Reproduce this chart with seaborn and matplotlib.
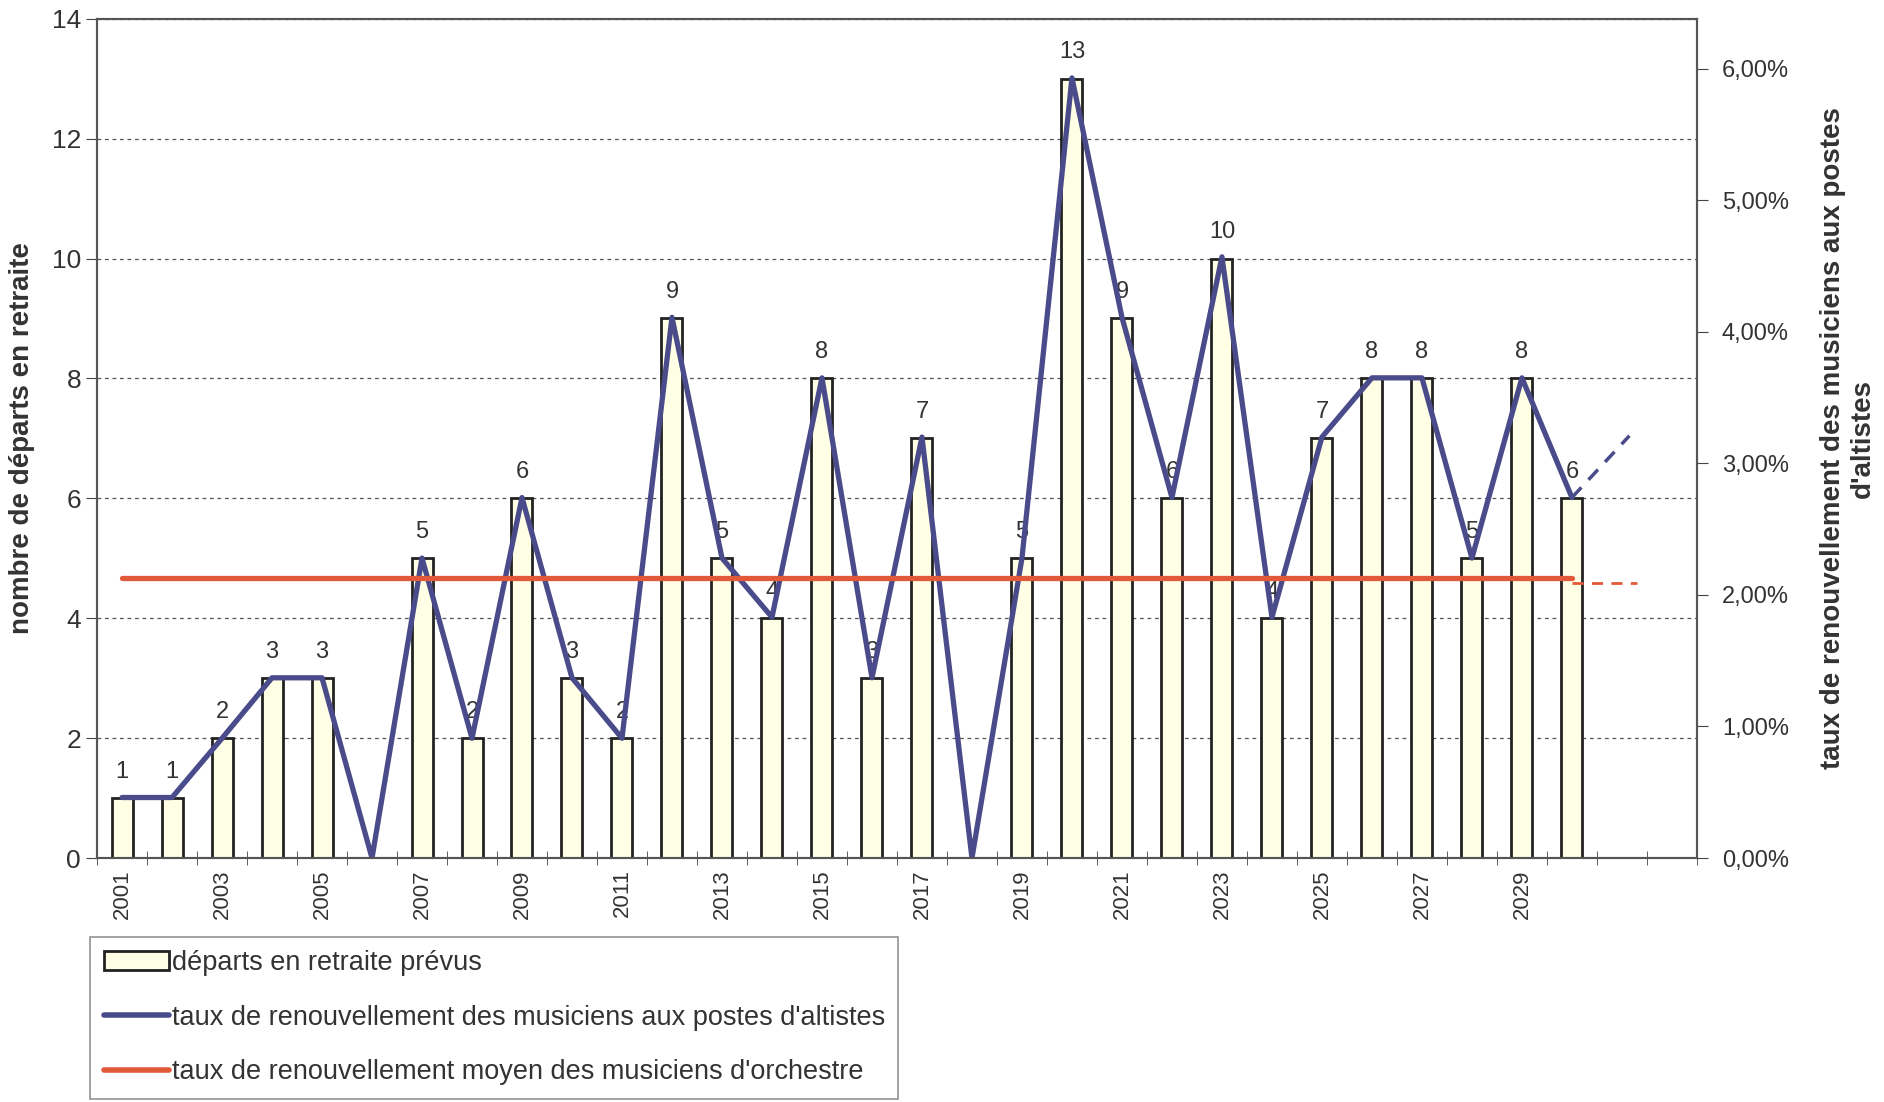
import matplotlib
matplotlib.use("Agg")
import matplotlib.pyplot as plt
import seaborn as sns
import numpy as np
import pandas as pd
from matplotlib.patches import Patch
from matplotlib.lines import Line2D
from matplotlib.ticker import FuncFormatter

# categories (2031, 2032 are empty slots on the axis)
years = list(range(2001, 2033))
departs = [1, 1, 2, 3, 3, 0, 5, 2, 6, 3, 2, 9, 5, 4, 8, 3, 7, 0, 5, 13,
           9, 6, 10, 4, 7, 8, 8, 5, 8, 6]
# renewal rate for violist posts (%), read on the right axis
taux_alto = [0.46, 0.46, 0.91, 1.37, 1.37, 0.00, 2.28, 0.91, 2.74, 1.37,
             0.91, 4.11, 2.28, 1.83, 3.65, 1.37, 3.20, 0.00, 2.28, 5.93,
             4.11, 2.74, 4.57, 1.83, 3.20, 3.65, 3.65, 2.28, 3.65, 2.74]
# dashed projection after 2030
proj_alto_x = [2030, 2031.15]
proj_alto = [2.74, 3.21]
# average renewal rate of orchestra musicians (%)
taux_moyen = 2.13
proj_moyen_x = [2030, 2031.3]
proj_moyen = [2.09, 2.09]

label_years = [str(y) for y in range(2001, 2030, 2)]

blue = "#4a4b8a"
red = "#e2593a"
ivory = "#ffffe6"
txt = "#333333"

sns.set_style("ticks")
plt.rcParams["font.family"] = ["Liberation Sans", "DejaVu Sans"]

df = pd.DataFrame({"annee": [str(y) for y in years[:len(departs)]], "departs": departs})

fig = plt.figure(figsize=(18.84, 11.02), dpi=100)
ax = fig.add_axes([0.0515, 0.2214, 0.8492, 0.7616])

sns.barplot(data=df, x="annee", y="departs", ax=ax, color=ivory, width=0.42,
            edgecolor="#222222", linewidth=2, saturation=1)
ax.set_xlim(-0.5, len(years) - 0.5)
ax.set_ylim(0, 14)
ax.set_yticks(range(0, 15, 2))
ax.yaxis.grid(True, linestyle=(0, (3, 3)), color="#555555", linewidth=0.9)
ax.set_axisbelow(True)

labels = [str(v) if v > 0 else "" for v in departs]
ax.bar_label(ax.containers[0], labels=labels, padding=11, fontsize=17, color=txt)

# x ticks: labels on odd years, tick marks at category boundaries
ax.set_xticks([years.index(int(y)) for y in label_years])
ax.set_xticklabels(label_years, rotation=90, fontsize=16, color=txt)
ax.tick_params(axis="x", which="major", length=0, pad=8)
ax.set_xticks(np.arange(-0.5, len(years), 1), minor=True)
ax.tick_params(axis="x", which="minor", length=10, direction="inout", color="#444444")
ax.tick_params(axis="y", labelsize=19, colors=txt, length=8, color="#444444")
ax.set_xlabel("")
ax.set_ylabel("nombre de départs en retraite", fontsize=20, fontweight="bold",
              color=txt, labelpad=12)

ax2 = ax.twinx()
xpos = np.arange(len(taux_alto))
sns.lineplot(x=xpos, y=taux_alto, ax=ax2, color=blue, linewidth=3.8)
px = [years.index(2030) + (p - 2030) for p in proj_alto_x]
sns.lineplot(x=px, y=proj_alto, ax=ax2, color=blue, linewidth=2.5, linestyle=(0, (4, 3)))
ax2.plot([xpos[0], xpos[-1]], [taux_moyen, taux_moyen], color=red, linewidth=3.8)
mx = [years.index(2030) + (p - 2030) for p in proj_moyen_x]
ax2.plot(mx, proj_moyen, color=red, linewidth=2, linestyle=(0, (4, 3)))
ax2.set_xlim(-0.5, len(years) - 0.5)
ax2.set_ylim(0, 6.38)
ax2.set_yticks(range(0, 7))
ax2.yaxis.set_major_formatter(FuncFormatter(lambda v, p: f"{v:.2f}%".replace(".", ",")))
ax2.tick_params(axis="y", labelsize=17, colors=txt, length=8, color="#444444", pad=10)
ax2.set_ylabel("taux de renouvellement des musiciens aux postes\nd'altistes",
               fontsize=20, fontweight="bold", color=txt, labelpad=22)

for a in (ax, ax2):
    for s in a.spines.values():
        s.set_color("#555555")
        s.set_linewidth(1.5)

handles = [
    Patch(facecolor=ivory, edgecolor="#222222", linewidth=2),
    Line2D([], [], color=blue, linewidth=4),
    Line2D([], [], color=red, linewidth=4),
]
names = [
    "départs en retraite prévus",
    "taux de renouvellement des musiciens aux postes d'altistes",
    "taux de renouvellement moyen des musiciens d'orchestre",
]
leg = fig.legend(handles, names, loc="lower left", bbox_to_anchor=(0.048, 0.003),
                 fontsize=19.5, frameon=True, fancybox=False, edgecolor="#777777",
                 handlelength=2.4, handletextpad=0.1, labelspacing=1.05,
                 borderpad=0.5, borderaxespad=0)
leg.get_frame().set_linewidth(1.2)
for t in leg.get_texts():
    t.set_color(txt)

fig.savefig("out.png", dpi=100)
